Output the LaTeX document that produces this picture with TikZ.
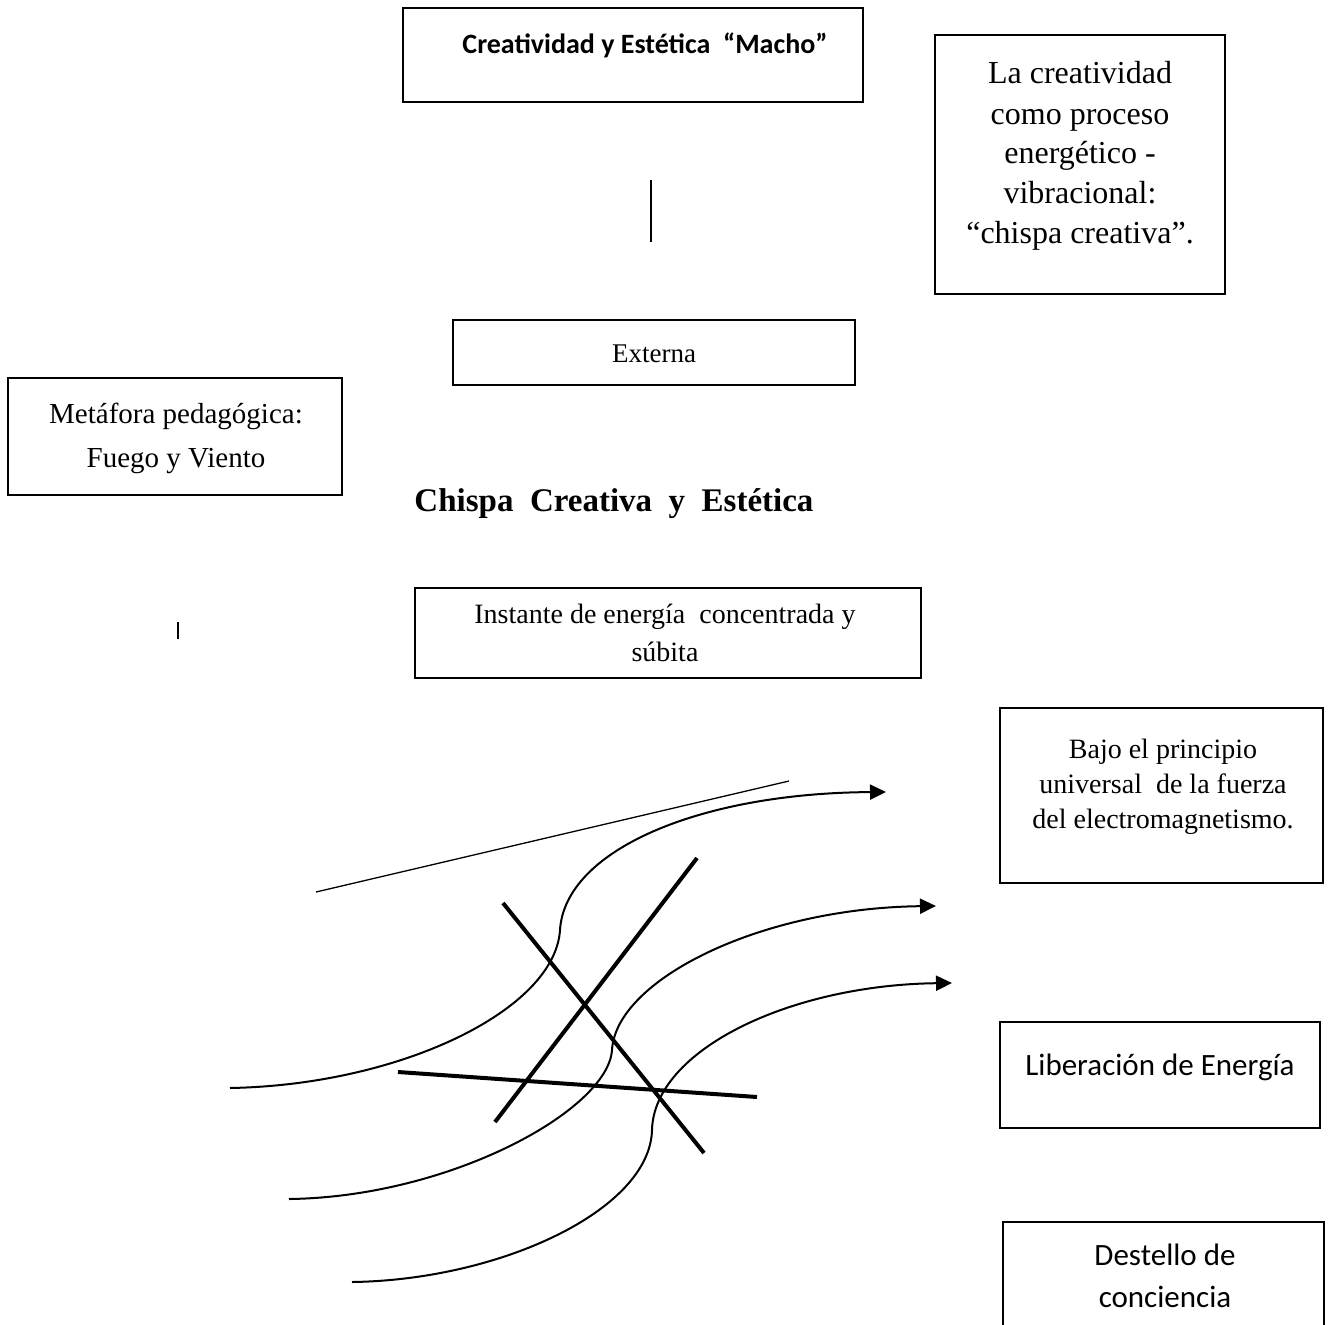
\documentclass[tikz,border=0pt]{standalone}
\usepackage{fontspec}
\setmainfont{Liberation Serif}
\newfontfamily\calibF{Carlito}
\usetikzlibrary{arrows.meta}
\tikzset{
  box/.style={draw, line width=2.8pt, inner sep=0pt},
  tx/.style={anchor=base, inner sep=0pt},
  flow/.style={line width=2pt, -{Triangle[length=16pt,width=15pt]}},
  bar/.style={line width=4pt},
  fine/.style={line width=1.3pt}
}
\begin{document}
\begin{tikzpicture}[x=1pt,y=-1pt]
\useasboundingbox (0,0) rectangle (1336,1325);
\clip (0,0) rectangle (1336,1325);
% boxes
\node[box, minimum width=460pt, minimum height=94pt] (b1) at (633,55) {};
\node[box, minimum width=290pt, minimum height=259pt] (b2) at (1080,164.5) {};
\node[box, minimum width=402pt, minimum height=65pt] (b3) at (654,352.5) {};
\node[box, minimum width=334pt, minimum height=117pt] (b4) at (175,436.5) {};
\node[box, minimum width=506pt, minimum height=90pt] (b5) at (668,633) {};
\node[box, minimum width=323pt, minimum height=175pt] (b6) at (1161.5,795.5) {};
\node[box, minimum width=320pt, minimum height=106pt] (b7) at (1160,1075) {};
\node[box, minimum width=321pt, minimum height=123pt] (b8) at (1163.5,1283.5) {};
% texts
\node[tx, font=\calibF\bfseries\fontsize{28}{34}\selectfont] (t1) at (645,53) {Creatividad y Estética ~“Macho”};
\begin{scope}[every node/.style={tx, font=\fontsize{32}{38}\selectfont}]
\node (t2a) at (1080,83) {La creatividad};
\node (t2b) at (1080,124) {como proceso};
\node (t2c) at (1080,163) {energético -};
\node (t2d) at (1080,203) {vibracional:};
\node (t2e) at (1080,243) {“chispa creativa”.};
\end{scope}
\node[tx, font=\fontsize{27}{32}\selectfont] (t3) at (654,362) {Externa};
\begin{scope}[every node/.style={tx, font=\fontsize{29}{34}\selectfont}]
\node (t4a) at (176,423) {Metáfora pedagógica:};
\node (t4b) at (176,467) {Fuego y Viento};
\end{scope}
\node[tx, font=\bfseries\fontsize{33}{38}\selectfont] (t5) at (614,511) {Chispa ~Creativa ~y ~Estética};
\begin{scope}[every node/.style={tx, font=\fontsize{28}{34}\selectfont}]
\node (t6a) at (665,623) {Instante de energía ~concentrada y};
\node (t6b) at (665,661) {súbita};
\node (t7a) at (1163,758) {Bajo el principio};
\node (t7b) at (1163,793) {universal ~de la fuerza};
\node (t7c) at (1163,828) {del electromagnetismo.};
\end{scope}
\begin{scope}[every node/.style={tx, font=\calibF\fontsize{31}{37}\selectfont}]
\node (t8) at (1160,1075) {Liberación de Energía};
\node (t9a) at (1165,1265) {Destello de};
\node (t9b) at (1165,1307) {conciencia};
\end{scope}
% small lines
\coordinate (v1) at (651,180); \coordinate (v2) at (651,242);
\draw[fine] (v1) -- (v2);
\coordinate (m1) at (178,622); \coordinate (m2) at (178,639);
\draw[fine] (m1) -- (m2);
\coordinate (d1) at (316,892); \coordinate (d2) at (789,781);
\draw[fine] (d1) -- (d2);
% thick bars
\coordinate (a1) at (503,903); \coordinate (a2) at (704,1153);
\coordinate (c1) at (495,1122); \coordinate (c2) at (697,858);
\coordinate (h1) at (398,1072); \coordinate (h2) at (757,1097);
\draw[bar] (a1) -- (a2);
\draw[bar] (c1) -- (c2);
\draw[bar] (h1) -- (h2);
% flow curves
\coordinate (s1) at (230,1088); \coordinate (k1) at (560,930); \coordinate (e1) at (886,792);
\coordinate (s2) at (289,1199); \coordinate (k2) at (612,1050); \coordinate (e2) at (936,906);
\coordinate (s3) at (352,1282); \coordinate (k3) at (652,1130); \coordinate (e3) at (952,983);
\draw[flow] (s1) .. controls (400,1085) and (555,1010) .. (k1)
  .. controls (565,850) and (700,793) .. (e1);
\draw[flow] (s2) .. controls (450,1197) and (608,1110) .. (k2)
  .. controls (616,980) and (760,908) .. (e2);
\draw[flow] (s3) .. controls (500,1280) and (650,1210) .. (k3)
  .. controls (654,1050) and (790,985) .. (e3);
\end{tikzpicture}
\end{document}
